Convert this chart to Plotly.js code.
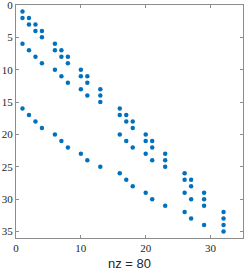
<!DOCTYPE html>
<html>
<head>
<meta charset="utf-8">
<script src="https://cdn.plot.ly/plotly-3.0.1.min.js"></script>
<style>html,body{margin:0;padding:0;background:#fff;}#chart{width:249px;height:271px;}</style>
</head>
<body>
<div id="chart"></div>
<script>
// Nonzero pattern of a 35x34 sparse matrix (row, column indices)
const colIdx = [1,1,1,1, 2,2,2,2, 3,3,3,3, 4,4,4,4, 6,6,6,6, 7,7,7,7, 8,8,8,8,
                10,10,10,10, 11,11,11,11, 13,13,13,13, 16,16,16,16, 17,17,17,17,
                18,18,18,18, 20,20,20,20, 21,21,21,21, 23,23,23,23, 26,26,26,26,
                27,27,27,27, 29,29,29,29, 32,32,32,32];
const rowIdx = [1,2,6,16, 2,3,7,17, 3,4,8,18, 4,5,9,19, 6,7,10,20, 7,8,11,21, 8,9,12,22,
                10,11,13,23, 11,12,14,24, 13,14,15,25, 16,17,20,26, 17,18,21,27,
                18,19,22,28, 20,21,23,29, 21,22,24,30, 23,24,25,31, 26,27,29,32,
                27,28,30,33, 29,30,31,34, 32,33,34,35];
const nRows = 35, nCols = 34;
const xTicks = [0,10,20,30];
const yTicks = [0,5,10,15,20,25,30,35];
const xLabel = 'nz = ' + rowIdx.length;

const tickFont = {family: 'Liberation Serif, DejaVu Serif, serif', size: 11, color: '#262626'};
const axisCommon = {
  showgrid: false, zeroline: false, showline: true, linecolor: '#8c8c8c', linewidth: 1,
  mirror: 'ticks', ticks: 'inside', ticklen: 3, tickcolor: '#8c8c8c', tickfont: tickFont,
  automargin: false, ticklabeloverflow: 'allow'
};

Plotly.newPlot('chart', [{
  type: 'scatter', mode: 'markers', x: colIdx, y: rowIdx,
  marker: {color: '#0072BD', size: 4.5}, hoverinfo: 'x+y', cliponaxis: false
}], {
  width: 249, height: 271,
  margin: {l: 16, r: 6, t: 5, b: 33, autoexpand: false},
  paper_bgcolor: '#fff', plot_bgcolor: '#fff',
  showlegend: false,
  xaxis: Object.assign({}, axisCommon, {
    range: [-0.0001, nCols + 1], tickvals: xTicks, ticktext: xTicks.map(String)
  }),
  yaxis: Object.assign({}, axisCommon, {
    range: [nRows + 1, -0.0001], tickvals: yTicks, ticktext: yTicks.map(String)
  }),
  annotations: [{
    text: xLabel, xref: 'paper', yref: 'paper', x: 0.5, y: 0, yshift: -25,
    xanchor: 'center', yanchor: 'middle', showarrow: false,
    font: {family: 'Liberation Sans, Arial, sans-serif', size: 13, color: '#262626'}
  }]
}, {displayModeBar: false, staticPlot: true});
</script>
</body>
</html>
